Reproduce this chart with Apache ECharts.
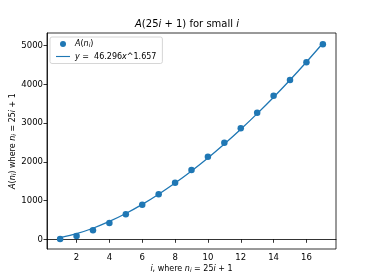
<!DOCTYPE html>
<html>
<head>
<meta charset="utf-8">
<script src="https://cdn.jsdelivr.net/npm/echarts@6/dist/echarts.min.js"></script>
<style>
html,body{margin:0;padding:0;background:#fff;}
#c{width:374px;height:280px;}
</style>
</head>
<body>
<div id="c"></div>
<script>
// i values
var iValues = [1,2,3,4,5,6,7,8,9,10,11,12,13,14,15,16,17];
// observed A(n_i)
var aValues = [8,85,232,421,645,894,1162,1462,1790,2133,2495,2867,3270,3705,4114,4571,5036];
// fitted curve y = 46.296 x^1.657, as read at each i
var fitValues = [46,146,286,461,666,902,1164,1452,1765,2101,2461,2842,3246,3670,4115,4580,5064];
var xTicks = [2,4,6,8,10,12,14,16];
var yTicks = [0,1000,2000,3000,4000,5000];

var C = '#1f77b4';
var FONT = 'DejaVu Sans';
var scatterData = iValues.map(function(x,k){return [x,aValues[k]];});
var fitData = iValues.map(function(x,k){return [x,fitValues[k]];});

var rich = {
  it:{fontStyle:'italic',fontFamily:FONT,fontSize:8,color:'#000'},
  sub:{fontStyle:'italic',fontFamily:FONT,fontSize:6,color:'#000',verticalAlign:'bottom',padding:[3,0,0,0]},
  n:{fontFamily:FONT,fontSize:8,color:'#000'}
};
var richT = {
  it:{fontStyle:'italic',fontFamily:FONT,fontSize:10,color:'#000'},
  n:{fontFamily:FONT,fontSize:10,color:'#000'}
};

var chart = echarts.init(document.getElementById('c'),null,{renderer:'canvas'});
chart.setOption({
  animation:false,
  backgroundColor:'#fff',
  title:{
    text:'{it|A}{n|(25}{it|i}{n| + 1) for small }{it|i}',
    left:'center', top:19,
    textStyle:{rich:richT,fontSize:10,fontFamily:FONT,color:'#000',fontWeight:'normal'},
    padding:0
  },
  grid:{left:47,right:38,top:33,bottom:31,show:true,borderColor:'#000',borderWidth:0.8,backgroundColor:'transparent',containLabel:false,outerBoundsMode:'none'},
  legend:{
    orient:'vertical', left:50, top:37,
    backgroundColor:'rgba(255,255,255,0.8)', borderColor:'#ccc', borderWidth:0.8, borderRadius:2,
    padding:[3,6,3,6], itemGap:4, itemWidth:14, itemHeight:6,
    data:[
      {name:'A(n_i)', icon:'circle'},
      {name:'fit', icon:'path://M0,0 L20,0 L20,1.6 L0,1.6 Z'}
    ],
    formatter:function(name){
      if(name==='A(n_i)') return '{it|A}{n|(}{it|n}{sub|i}{n|)}';
      return '{it|y}{n| =  46.296}{it|x}{n|^1.657}';
    },
    textStyle:{rich:rich,fontSize:8,fontFamily:FONT,color:'#000'}
  },
  xAxis:{
    type:'value', min:0.2, max:17.8,
    axisLine:{show:true,lineStyle:{color:'#000',width:0.8}},
    axisTick:{show:true,customValues:xTicks,length:3.5,lineStyle:{color:'#000',width:0.8}},
    axisLabel:{customValues:xTicks,color:'#000',fontSize:8.5,fontFamily:FONT,margin:4,formatter:function(v){return String(v);}},
    splitLine:{show:false},
    name:'{it|i}{n|, where }{it|n}{sub|i}{n| = 25}{it|i}{n| + 1}',
    nameLocation:'middle', nameGap:15, nameMoveOverlap:false,
    nameTextStyle:{rich:rich,fontSize:8,fontFamily:FONT,color:'#000'}
  },
  yAxis:{
    type:'value', min:-250, max:5328,
    axisLine:{show:true,lineStyle:{color:'#000',width:0.8}},
    axisTick:{show:true,customValues:yTicks,length:3.5,lineStyle:{color:'#000',width:0.8}},
    axisLabel:{customValues:yTicks,color:'#000',fontSize:8.5,fontFamily:FONT,margin:4,formatter:function(v){return String(v);}},
    splitLine:{show:false},
    name:'{it|A}{n|(}{it|n}{sub|i}{n|) where }{it|n}{sub|i}{n| = 25}{it|i}{n| + 1}',
    nameLocation:'middle', nameGap:30, nameMoveOverlap:false,
    nameTextStyle:{rich:rich,fontSize:8,fontFamily:FONT,color:'#000'}
  },
  series:[
    {name:'A(n_i)', type:'scatter', data:scatterData, symbolSize:6.5, itemStyle:{color:C,opacity:1}, z:3},
    {name:'fit', type:'line', data:fitData, showSymbol:false, smooth:0.3, lineStyle:{color:C,width:1.3}, itemStyle:{color:C}, z:2}
  ]
});
</script>
</body>
</html>
